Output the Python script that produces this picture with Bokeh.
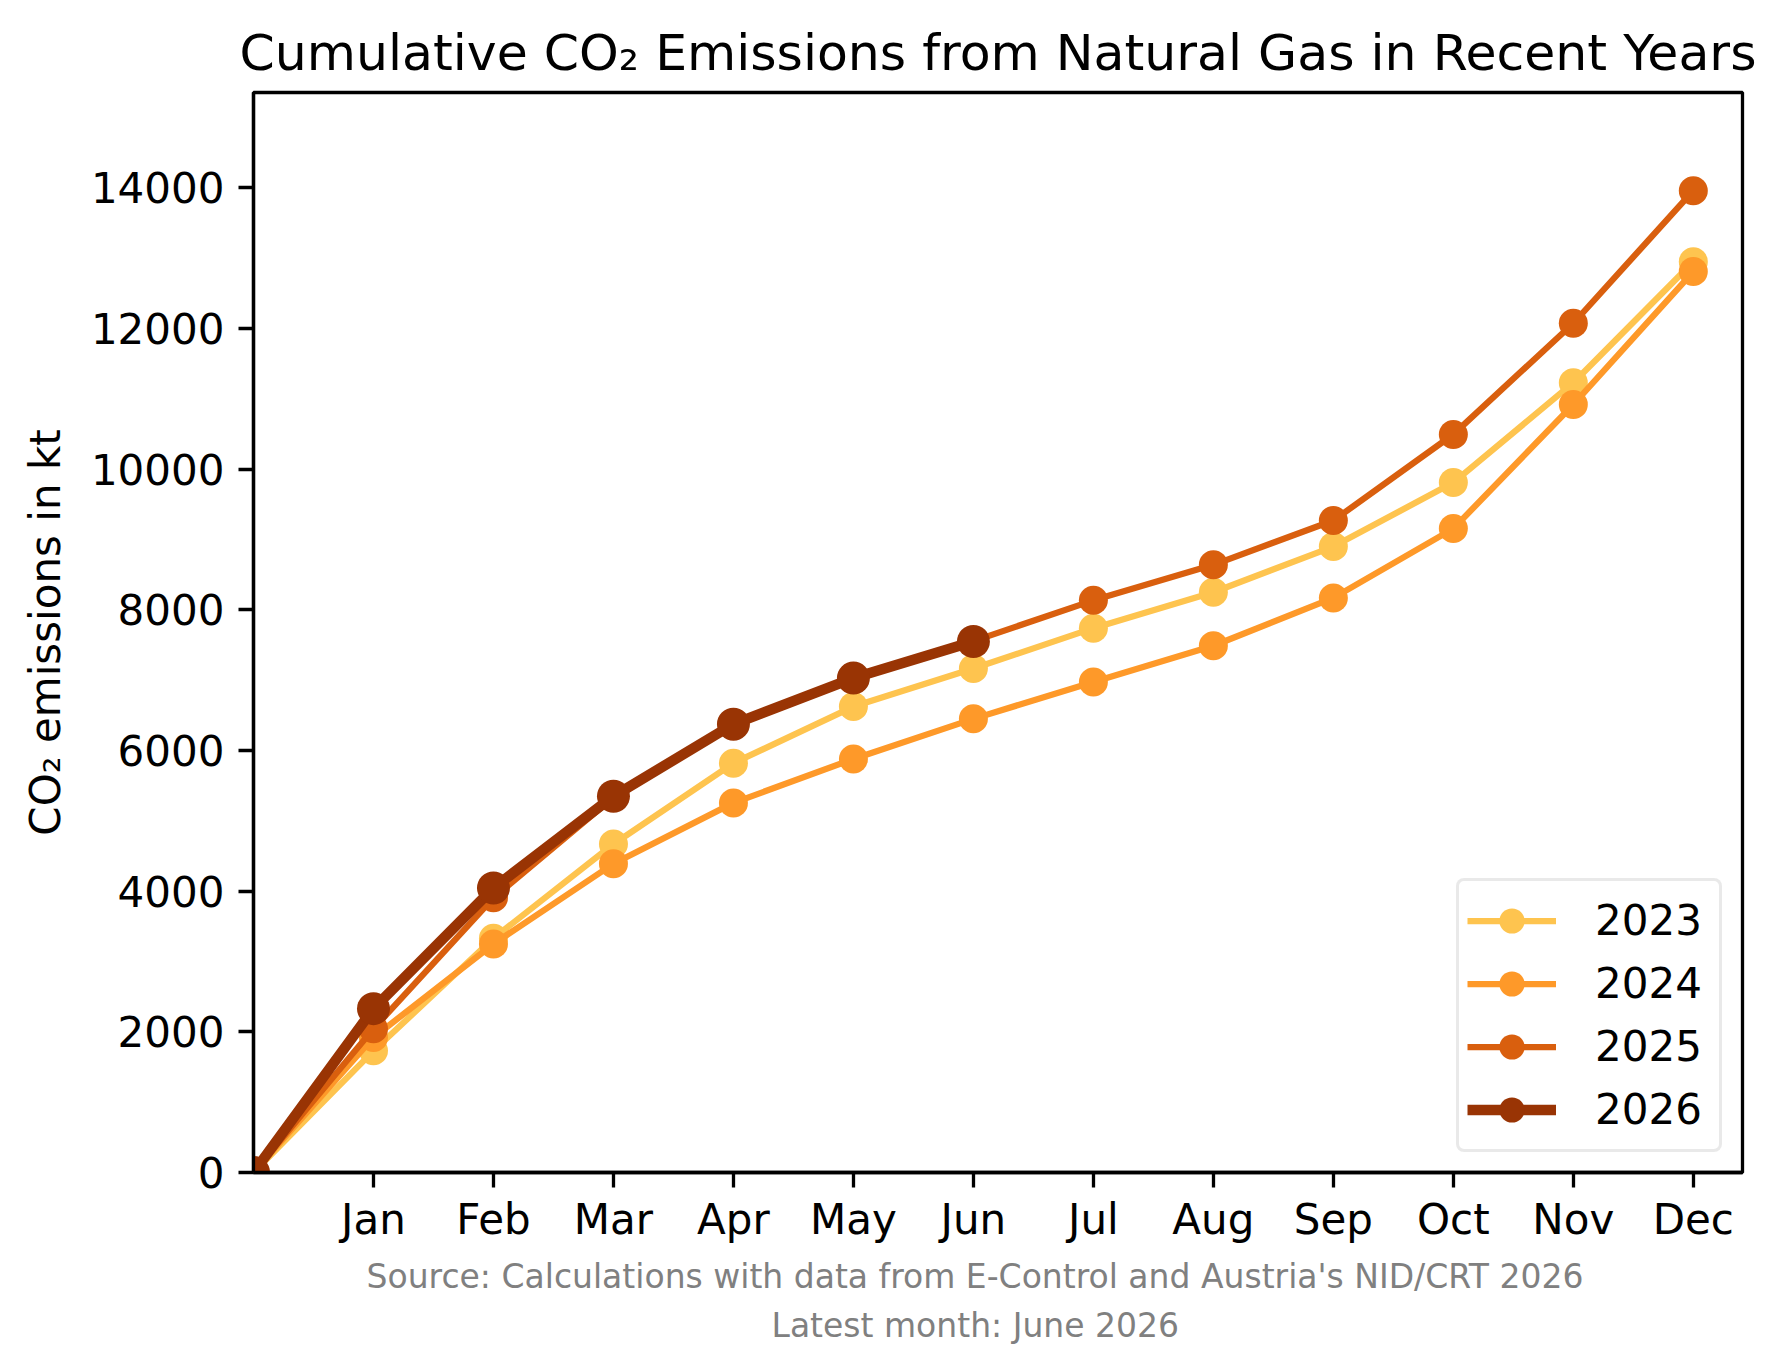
from bokeh.plotting import figure
from bokeh.models import Range1d, FixedTicker, SingleIntervalTicker, Title, Legend
from bokeh.embed import file_html
from bokeh.resources import INLINE

# ---- data ----
months = ["Jan", "Feb", "Mar", "Apr", "May", "Jun", "Jul", "Aug", "Sep", "Oct", "Nov", "Dec"]
month_index = list(range(0, 13))  # 0 = start of year
em_2023 = [0, 1730, 3330, 4670, 5820, 6625, 7165, 7740, 8250, 8900, 9810, 11230, 12950]
em_2024 = [0, 1920, 3250, 4390, 5255, 5880, 6450, 6975, 7490, 8170, 9155, 10920, 12810]
em_2025 = [0, 2045, 3905, 5335, 6355, 7010, 7555, 8135, 8640, 9270, 10495, 12075, 13960]
em_2026 = [0, 2330, 4045, 5350, 6375, 7030, 7550]
years = ["2023", "2024", "2025", "2026"]
colors = ["#fec44f", "#fe9929", "#d95f0e", "#993404"]
series = [em_2023, em_2024, em_2025, em_2026]

FONT = "DejaVu Sans"

ymax = max(max(s) for s in series) * 1.1

p = figure(width=1775, height=1364, output_backend="svg", toolbar_location=None,
           x_range=Range1d(0, 12.41), y_range=Range1d(0, ymax),
           min_border_left=253, min_border_right=33, min_border_top=92, min_border_bottom=192)

p.title.text = "Cumulative CO\u2082 Emissions from Natural Gas in Recent Years"
p.title.text_font = FONT
p.title.text_font_size = "50.5px"
p.title.text_font_style = "normal"
p.title.text_color = "black"
p.title.align = "center"
p.title.standoff = 21

p.xgrid.visible = False
p.ygrid.visible = False
p.outline_line_color = "black"
p.outline_line_width = 3.3
p.background_fill_color = "white"
p.border_fill_color = "white"

for ax in (p.xaxis[0], p.yaxis[0]):
    ax.axis_line_width = 3.3
    ax.major_tick_line_width = 3.3
    ax.major_tick_out = 15
    ax.major_tick_in = 0
    ax.minor_tick_line_color = None
    ax.major_label_text_font = FONT
    ax.major_label_text_font_size = "42px"
    ax.major_label_text_color = "black"
    ax.major_label_standoff = 14
    ax.axis_label_text_font = FONT
    ax.axis_label_text_font_size = "42px"
    ax.axis_label_text_font_style = "normal"
    ax.axis_label_text_color = "black"

p.xaxis.major_label_standoff = 7
p.xaxis.ticker = FixedTicker(ticks=list(range(1, 13)))
p.xaxis.major_label_overrides = {i + 1: m for i, m in enumerate(months)}
p.yaxis.ticker = SingleIntervalTicker(interval=2000)
p.yaxis.axis_label = "CO\u2082 emissions in kt"
p.yaxis.axis_label_standoff = 18

items = []
for yr, col, s in zip(years, colors, series):
    xs = month_index[:len(s)]
    lw = 10.4 if yr == "2026" else 6.25
    ms = 33 if yr == "2026" else 29
    r1 = p.line(xs, s, line_color=col, line_width=lw)
    r2 = p.scatter(xs, s, size=ms, fill_color=col, line_color=None, marker="circle")
    items.append((yr, [r1, r2]))

legend = Legend(items=items, location="bottom_right")
legend.label_text_font = FONT
legend.label_text_font_size = "42px"
legend.label_text_color = "black"
legend.glyph_width = 89
legend.glyph_height = 63
legend.label_width = 116
legend.label_standoff = 39
legend.spacing = 0
legend.padding = 8
legend.margin = 20
legend.border_line_color = "#d4d4d4"
legend.border_line_width = 3.3
legend.border_radius = 8
legend.background_fill_alpha = 0.8
p.add_layout(legend, "center")

src1 = Title(text="Source: Calculations with data from E-Control and Austria's NID/CRT 2026",
             text_font=FONT, text_font_size="33px", text_font_style="normal",
             text_color="#808080", align="left", offset=113, standoff=16)
src2 = Title(text="Latest month: June 2026",
             text_font=FONT, text_font_size="33px", text_font_style="normal",
             text_color="#808080", align="left", offset=518, standoff=0)
p.add_layout(src1, "below")
p.add_layout(src2, "below")

open("out.html", "w").write(file_html(p, INLINE))
